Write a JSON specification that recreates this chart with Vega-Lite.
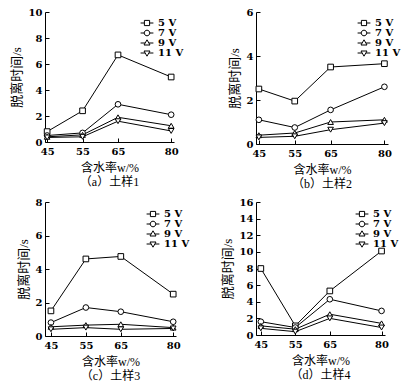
{
  "$schema": "https://vega.github.io/schema/vega-lite/v6.json",
  "padding": {"left": 10, "top": 7, "right": 2, "bottom": 2},
  "background": "white",
  "datasets": {
    "d": [
      {"p":"a","w":45,"v":"5 V","t":0.8},{"p":"a","w":55,"v":"5 V","t":2.4},{"p":"a","w":65,"v":"5 V","t":6.7},{"p":"a","w":80,"v":"5 V","t":5.0},
      {"p":"a","w":45,"v":"7 V","t":0.5},{"p":"a","w":55,"v":"7 V","t":0.7},{"p":"a","w":65,"v":"7 V","t":2.9},{"p":"a","w":80,"v":"7 V","t":2.1},
      {"p":"a","w":45,"v":"9 V","t":0.4},{"p":"a","w":55,"v":"9 V","t":0.55},{"p":"a","w":65,"v":"9 V","t":1.9},{"p":"a","w":80,"v":"9 V","t":1.25},
      {"p":"a","w":45,"v":"11 V","t":0.35},{"p":"a","w":55,"v":"11 V","t":0.4},{"p":"a","w":65,"v":"11 V","t":1.6},{"p":"a","w":80,"v":"11 V","t":0.85},
      {"p":"b","w":45,"v":"5 V","t":2.5},{"p":"b","w":55,"v":"5 V","t":1.95},{"p":"b","w":65,"v":"5 V","t":3.5},{"p":"b","w":80,"v":"5 V","t":3.65},
      {"p":"b","w":45,"v":"7 V","t":1.1},{"p":"b","w":55,"v":"7 V","t":0.75},{"p":"b","w":65,"v":"7 V","t":1.55},{"p":"b","w":80,"v":"7 V","t":2.6},
      {"p":"b","w":45,"v":"9 V","t":0.4},{"p":"b","w":55,"v":"9 V","t":0.5},{"p":"b","w":65,"v":"9 V","t":1.0},{"p":"b","w":80,"v":"9 V","t":1.1},
      {"p":"b","w":45,"v":"11 V","t":0.3},{"p":"b","w":55,"v":"11 V","t":0.35},{"p":"b","w":65,"v":"11 V","t":0.65},{"p":"b","w":80,"v":"11 V","t":0.95},
      {"p":"c","w":45,"v":"5 V","t":1.5},{"p":"c","w":55,"v":"5 V","t":4.6},{"p":"c","w":65,"v":"5 V","t":4.75},{"p":"c","w":80,"v":"5 V","t":2.5},
      {"p":"c","w":45,"v":"7 V","t":0.8},{"p":"c","w":55,"v":"7 V","t":1.7},{"p":"c","w":65,"v":"7 V","t":1.45},{"p":"c","w":80,"v":"7 V","t":0.85},
      {"p":"c","w":45,"v":"9 V","t":0.55},{"p":"c","w":55,"v":"9 V","t":0.65},{"p":"c","w":65,"v":"9 V","t":0.7},{"p":"c","w":80,"v":"9 V","t":0.5},
      {"p":"c","w":45,"v":"11 V","t":0.4},{"p":"c","w":55,"v":"11 V","t":0.5},{"p":"c","w":65,"v":"11 V","t":0.4},{"p":"c","w":80,"v":"11 V","t":0.45},
      {"p":"d","w":45,"v":"5 V","t":8.0},{"p":"d","w":55,"v":"5 V","t":1.1},{"p":"d","w":65,"v":"5 V","t":5.3},{"p":"d","w":80,"v":"5 V","t":10.1},
      {"p":"d","w":45,"v":"7 V","t":1.6},{"p":"d","w":55,"v":"7 V","t":0.9},{"p":"d","w":65,"v":"7 V","t":4.3},{"p":"d","w":80,"v":"7 V","t":2.9},
      {"p":"d","w":45,"v":"9 V","t":1.1},{"p":"d","w":55,"v":"9 V","t":0.7},{"p":"d","w":65,"v":"9 V","t":2.5},{"p":"d","w":80,"v":"9 V","t":1.4},
      {"p":"d","w":45,"v":"11 V","t":0.8},{"p":"d","w":55,"v":"11 V","t":0.4},{"p":"d","w":65,"v":"11 V","t":2.0},{"p":"d","w":80,"v":"11 V","t":0.9}
    ]
  },
  "config": {
    "view": {"stroke": null},
    "font": "DejaVu Serif",
    "axis": {
      "grid": false,
      "domainColor": "black",
      "tickColor": "black",
      "tickSize": -4,
      "labelPadding": 8,
      "labelColor": "black",
      "labelFont": "DejaVu Serif",
      "labelFontWeight": "bold",
      "labelFontSize": 10,
      "titleFont": "Liberation Serif, Noto Sans CJK SC",
      "titleFontSize": 12,
      "titleFontWeight": "normal",
      "titleColor": "black",
      "titlePadding": 6
    },
    "axisY": {"titlePadding": 5, "titleFontSize": 13, "labelPadding": 7},
    "legend": {
      "labelFont": "DejaVu Serif",
      "labelFontSize": 10,
      "labelFontWeight": "bold",
      "labelColor": "black",
      "rowPadding": -3,
      "symbolOffset": 0,
      "labelOffset": 6,
      "symbolSize": 64,
      "symbolStrokeWidth": 1
    },
    "title": {
      "font": "Liberation Serif, Noto Sans CJK SC",
      "fontSize": 12,
      "fontWeight": "normal",
      "color": "black",
      "orient": "bottom",
      "offset": 4
    }
  },
  "spacing": {"row": 7, "column": 31},
  "resolve": {"scale": {"x": "independent", "y": "independent", "shape": "independent"}, "legend": {"shape": "independent"}},
  "columns": 2,
  "concat": [
    {
      "width": 129, "height": 130,
      "title": "（a）土样1",
      "data": {"name": "d"},
      "transform": [{"filter": "datum.p == 'a'"}],
      "encoding": {
        "x": {"field": "w", "type": "quantitative", "scale": {"domain": [44.4, 80.8], "nice": false, "zero": false}, "axis": {"values": [45, 55, 65, 80], "title": "含水率w/%"}},
        "y": {"field": "t", "type": "quantitative", "scale": {"domain": [0, 10]}, "axis": {"values": [0, 2, 4, 6, 8, 10], "title": "脱离时间/s"}}
      },
      "resolve": {"scale": {"shape": "independent"}, "legend": {"shape": "independent"}},
      "layer": [
        {"mark": {"type": "line", "color": "black", "strokeWidth": 1}, "encoding": {"detail": {"field": "v"}}},
        {"mark": {"type": "point", "filled": true, "fill": "white", "stroke": "black", "strokeWidth": 1, "size": 32, "opacity": 1},
         "encoding": {"shape": {"field": "v", "type": "nominal", "scale": {"domain": ["5 V", "7 V", "9 V", "11 V"], "range": ["square", "circle", "triangle-up", "triangle-down"]}, "legend": null}}},
        {"transform": [{"filter": "false"}],
         "mark": {"type": "point", "filled": true, "fill": "white", "stroke": "black", "strokeWidth": 1, "opacity": 1},
         "encoding": {"shape": {"field": "v", "type": "nominal", "scale": {"domain": ["5 V", "7 V", "9 V", "11 V"], "range": ["M-1.6,0H-0.65M0.65,0H1.6M-0.65,-0.65H0.65V0.65H-0.65Z", "M-1.6,0H-0.7M0.7,0H1.6M0.7,0A0.7,0.7 0 1 1 -0.7,0A0.7,0.7 0 1 1 0.7,0Z", "M-1.6,0H-0.5M0.5,0H1.6M0,-0.8L0.75,0.5H-0.75Z", "M-1.6,0H-0.5M0.5,0H1.6M0,0.8L0.75,-0.5H-0.75Z"]},
           "legend": {"title": null, "orient": "none", "legendX": 97, "legendY": 6}}}}
      ]
    },
    {
      "width": 132, "height": 132,
      "title": "（b）土样2",
      "data": {"name": "d"},
      "transform": [{"filter": "datum.p == 'b'"}],
      "encoding": {
        "x": {"field": "w", "type": "quantitative", "scale": {"domain": [44.2, 81], "nice": false, "zero": false}, "axis": {"values": [45, 55, 65, 80], "title": "含水率w/%"}},
        "y": {"field": "t", "type": "quantitative", "scale": {"domain": [0, 6]}, "axis": {"values": [0, 2, 4, 6], "title": "脱离时间/s"}}
      },
      "resolve": {"scale": {"shape": "independent"}, "legend": {"shape": "independent"}},
      "layer": [
        {"mark": {"type": "line", "color": "black", "strokeWidth": 1}, "encoding": {"detail": {"field": "v"}}},
        {"mark": {"type": "point", "filled": true, "fill": "white", "stroke": "black", "strokeWidth": 1, "size": 32, "opacity": 1},
         "encoding": {"shape": {"field": "v", "type": "nominal", "scale": {"domain": ["5 V", "7 V", "9 V", "11 V"], "range": ["square", "circle", "triangle-up", "triangle-down"]}, "legend": null}}},
        {"transform": [{"filter": "false"}],
         "mark": {"type": "point", "filled": true, "fill": "white", "stroke": "black", "strokeWidth": 1, "opacity": 1},
         "encoding": {"shape": {"field": "v", "type": "nominal", "scale": {"domain": ["5 V", "7 V", "9 V", "11 V"], "range": ["M-1.6,0H-0.65M0.65,0H1.6M-0.65,-0.65H0.65V0.65H-0.65Z", "M-1.6,0H-0.7M0.7,0H1.6M0.7,0A0.7,0.7 0 1 1 -0.7,0A0.7,0.7 0 1 1 0.7,0Z", "M-1.6,0H-0.5M0.5,0H1.6M0,-0.8L0.75,0.5H-0.75Z", "M-1.6,0H-0.5M0.5,0H1.6M0,0.8L0.75,-0.5H-0.75Z"]},
           "legend": {"title": null, "orient": "none", "legendX": 103, "legendY": 6}}}}
      ]
    },
    {
      "width": 131, "height": 134,
      "title": "（c）土样3",
      "data": {"name": "d"},
      "transform": [{"filter": "datum.p == 'c'"}],
      "encoding": {
        "x": {"field": "w", "type": "quantitative", "scale": {"domain": [43.3, 80.8], "nice": false, "zero": false}, "axis": {"values": [45, 55, 65, 80], "title": "含水率w/%"}},
        "y": {"field": "t", "type": "quantitative", "scale": {"domain": [0, 8]}, "axis": {"values": [0, 2, 4, 6, 8], "title": "脱离时间/s"}}
      },
      "resolve": {"scale": {"shape": "independent"}, "legend": {"shape": "independent"}},
      "layer": [
        {"mark": {"type": "line", "color": "black", "strokeWidth": 1}, "encoding": {"detail": {"field": "v"}}},
        {"mark": {"type": "point", "filled": true, "fill": "white", "stroke": "black", "strokeWidth": 1, "size": 32, "opacity": 1},
         "encoding": {"shape": {"field": "v", "type": "nominal", "scale": {"domain": ["5 V", "7 V", "9 V", "11 V"], "range": ["square", "circle", "triangle-up", "triangle-down"]}, "legend": null}}},
        {"transform": [{"filter": "false"}],
         "mark": {"type": "point", "filled": true, "fill": "white", "stroke": "black", "strokeWidth": 1, "opacity": 1},
         "encoding": {"shape": {"field": "v", "type": "nominal", "scale": {"domain": ["5 V", "7 V", "9 V", "11 V"], "range": ["M-1.6,0H-0.65M0.65,0H1.6M-0.65,-0.65H0.65V0.65H-0.65Z", "M-1.6,0H-0.7M0.7,0H1.6M0.7,0A0.7,0.7 0 1 1 -0.7,0A0.7,0.7 0 1 1 0.7,0Z", "M-1.6,0H-0.5M0.5,0H1.6M0,-0.8L0.75,0.5H-0.75Z", "M-1.6,0H-0.5M0.5,0H1.6M0,0.8L0.75,-0.5H-0.75Z"]},
           "legend": {"title": null, "orient": "none", "legendX": 103, "legendY": 7}}}}
      ]
    },
    {
      "width": 129, "height": 133,
      "title": "（d）土样4",
      "data": {"name": "d"},
      "transform": [{"filter": "datum.p == 'd'"}],
      "encoding": {
        "x": {"field": "w", "type": "quantitative", "scale": {"domain": [43.6, 81], "nice": false, "zero": false}, "axis": {"values": [45, 55, 65, 80], "title": "含水率w/%"}},
        "y": {"field": "t", "type": "quantitative", "scale": {"domain": [0, 16]}, "axis": {"values": [0, 2, 4, 6, 8, 10, 12, 14, 16], "title": "脱离时间/s"}}
      },
      "resolve": {"scale": {"shape": "independent"}, "legend": {"shape": "independent"}},
      "layer": [
        {"mark": {"type": "line", "color": "black", "strokeWidth": 1}, "encoding": {"detail": {"field": "v"}}},
        {"mark": {"type": "point", "filled": true, "fill": "white", "stroke": "black", "strokeWidth": 1, "size": 32, "opacity": 1},
         "encoding": {"shape": {"field": "v", "type": "nominal", "scale": {"domain": ["5 V", "7 V", "9 V", "11 V"], "range": ["square", "circle", "triangle-up", "triangle-down"]}, "legend": null}}},
        {"transform": [{"filter": "false"}],
         "mark": {"type": "point", "filled": true, "fill": "white", "stroke": "black", "strokeWidth": 1, "opacity": 1},
         "encoding": {"shape": {"field": "v", "type": "nominal", "scale": {"domain": ["5 V", "7 V", "9 V", "11 V"], "range": ["M-1.6,0H-0.65M0.65,0H1.6M-0.65,-0.65H0.65V0.65H-0.65Z", "M-1.6,0H-0.7M0.7,0H1.6M0.7,0A0.7,0.7 0 1 1 -0.7,0A0.7,0.7 0 1 1 0.7,0Z", "M-1.6,0H-0.5M0.5,0H1.6M0,-0.8L0.75,0.5H-0.75Z", "M-1.6,0H-0.5M0.5,0H1.6M0,0.8L0.75,-0.5H-0.75Z"]},
           "legend": {"title": null, "orient": "none", "legendX": 101, "legendY": 7}}}}
      ]
    }
  ]
}
